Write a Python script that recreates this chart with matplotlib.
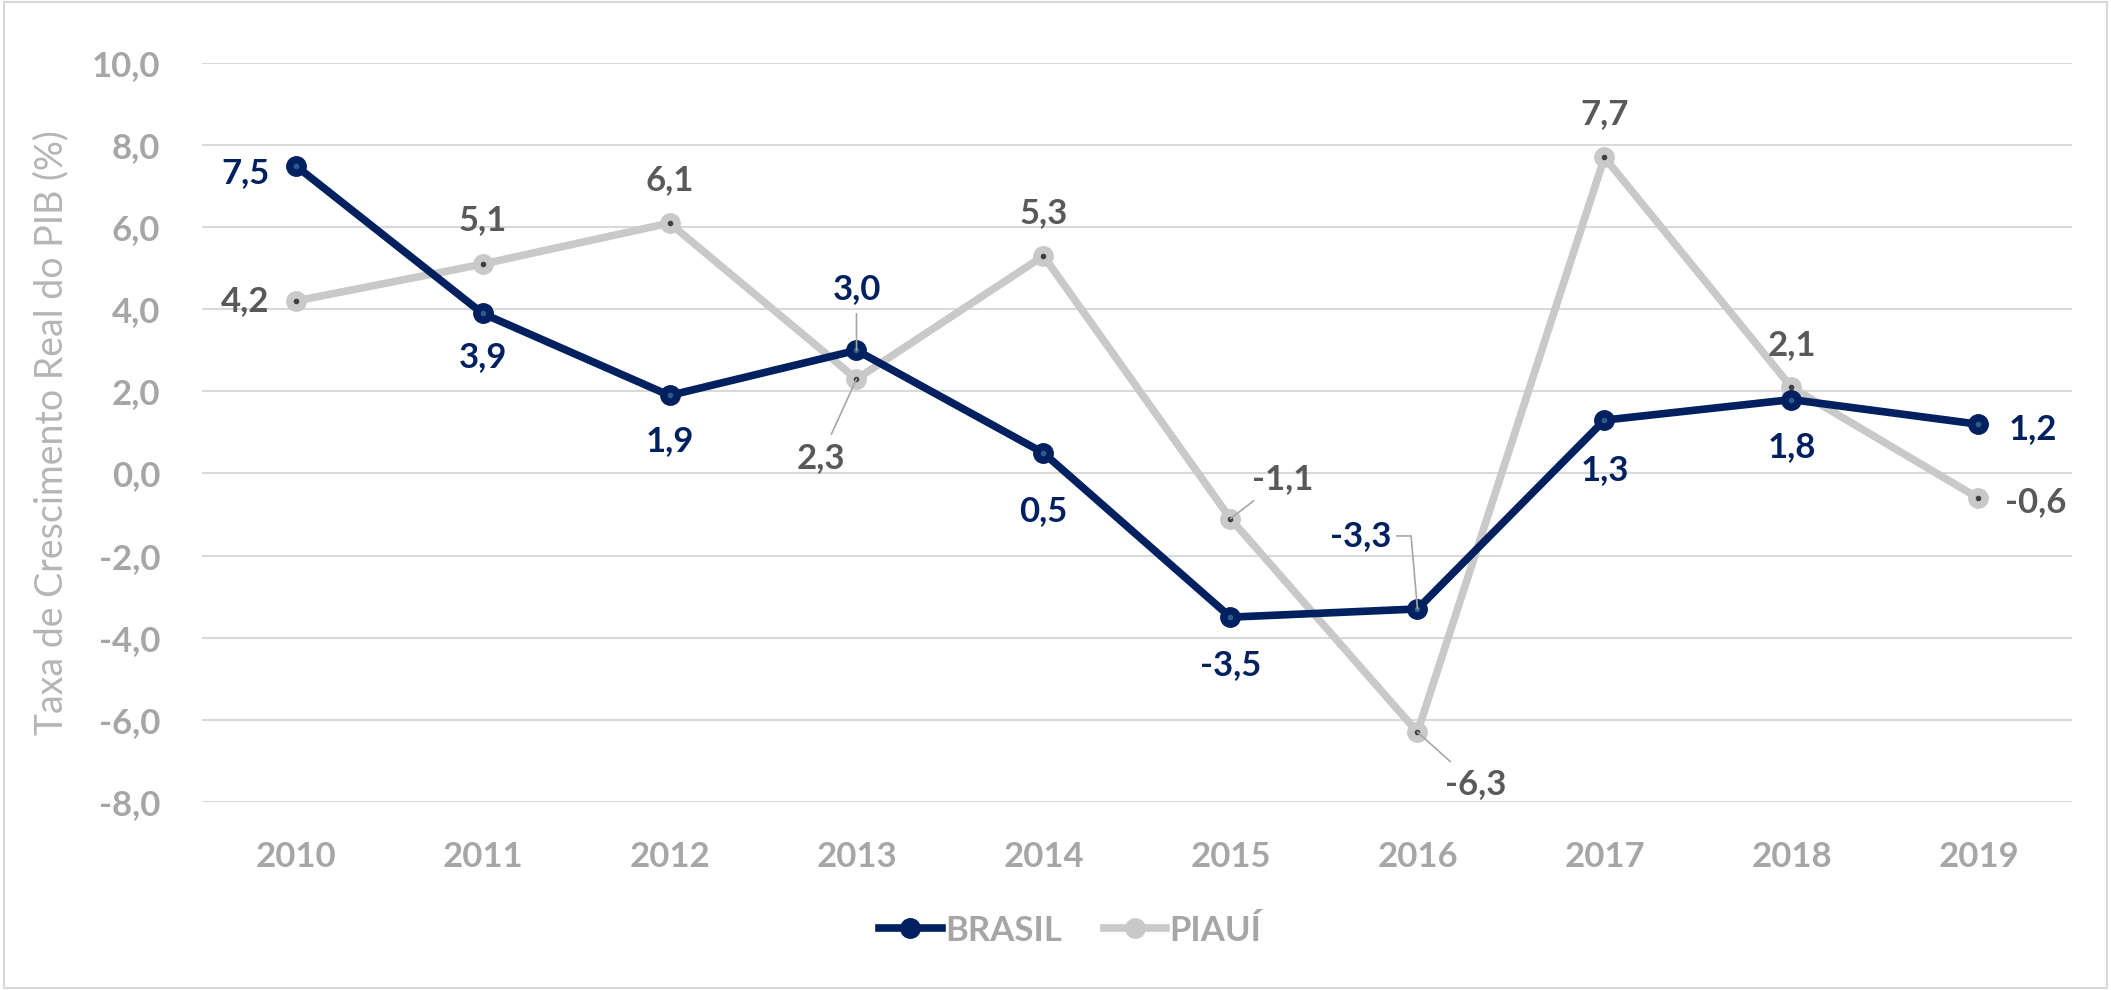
import numpy as np
import matplotlib
matplotlib.use('Agg')
import matplotlib.pyplot as plt
from matplotlib.ticker import FuncFormatter
from matplotlib.lines import Line2D
from matplotlib.patches import Rectangle

# DADOS
anos = ['2010', '2011', '2012', '2013', '2014', '2015', '2016', '2017', '2018', '2019']
brasil = [7.5, 3.9, 1.9, 3.0, 0.5, -3.5, -3.3, 1.3, 1.8, 1.2]
piaui = [4.2, 5.1, 6.1, 2.3, 5.3, -1.1, -6.3, 7.7, 2.1, -0.6]

# posição dos rótulos (deslocamento em pixels) e tipo de linha de chamada
desl_brasil = [(-50, -7), (0, -44), (0, -46), (0, 61), (0, -58),
               (0, -48), (-57, 73), (0, -50), (0, -47), (54, -5)]
chamada_brasil = [None, None, None, 'reta', None, None, 'cotovelo', None, None, None]
desl_piaui = [(-50, 0), (0, 44), (0, 43), (-36, -79), (0, 43),
              (52, 40), (58, -52), (0, 43), (0, 42), (57, -4)]
chamada_piaui = [None, None, None, 'reta', None, 'reta', 'reta', None, None, None]

AZUL = '#002060'
CINZA = '#C9C9C9'
TXT_CINZA = '#A6A6A6'
LBL_CINZA = '#595959'

plt.rcParams['font.family'] = ['Lato', 'DejaVu Sans']

fig = plt.figure(figsize=(21.11, 9.9), dpi=100)
ax = fig.add_axes([0.0957, 0.190, 0.8858, 0.7464])
fig.patches.append(Rectangle((0.002, 0.002), 0.996, 0.996, transform=fig.transFigure,
                             fill=False, edgecolor='#D9D9D9', lw=1.5))

x = np.arange(len(anos))
ax.plot(x, piaui, color=CINZA, lw=5.5, marker='o', ms=14, mfc=CINZA, mec=CINZA,
        solid_capstyle='round', zorder=3)
ax.plot(x, piaui, ls='none', marker='o', ms=3, color='#404040', zorder=4)
ax.plot(x, brasil, color=AZUL, lw=5.5, marker='o', ms=14, mfc=AZUL, mec=AZUL,
        solid_capstyle='round', zorder=5)
ax.plot(x, brasil, ls='none', marker='o', ms=3, color='#2E5C8A', zorder=6)

def fmt(v):
    return f'{v:.1f}'.replace('.', ',')

def rotulos(vals, desl, chamada, cor):
    for i, v in enumerate(vals):
        dx, dy = desl[i]
        props = None
        if chamada[i] == 'reta':
            props = dict(arrowstyle='-', color='#A6A6A6', lw=1.2, shrinkA=4, shrinkB=0)
        elif chamada[i] == 'cotovelo':
            props = dict(arrowstyle='-', color='#A6A6A6', lw=1.2, shrinkA=2, shrinkB=0,
                         relpos=(1.0, 0.5),
                         connectionstyle='angle,angleA=0,angleB=95,rad=0')
        ax.annotate(fmt(v), (x[i], v), xytext=(dx * 0.72, dy * 0.72),
                    textcoords='offset points', ha='center', va='center',
                    fontsize=25, fontweight='bold', color=cor,
                    arrowprops=props, zorder=7)

rotulos(brasil, desl_brasil, chamada_brasil, AZUL)
rotulos(piaui, desl_piaui, chamada_piaui, LBL_CINZA)

ax.set_xlim(-0.5, len(anos) - 0.5)
ax.set_ylim(-8, 10)
ax.set_yticks(np.arange(-8, 11, 2))
ax.yaxis.set_major_formatter(FuncFormatter(lambda v, p: fmt(v)))
ax.set_xticks(x)
ax.set_xticklabels(anos)
ax.tick_params(length=0, labelsize=25, labelcolor=TXT_CINZA)
ax.tick_params(axis='y', pad=30)
ax.tick_params(axis='x', pad=28)
for t in ax.get_xticklabels() + ax.get_yticklabels():
    t.set_fontweight('bold')
ax.grid(axis='y', color='#D9D9D9', lw=1.5)
ax.set_axisbelow(True)
for s in ax.spines.values():
    s.set_visible(False)

ax.set_ylabel('Taxa de Crescimento Real do PIB (%)', fontsize=27,
              color='#B5B5B5', labelpad=16)

handles = [Line2D([], [], color=AZUL, lw=5.5, marker='o', ms=14),
           Line2D([], [], color=CINZA, lw=5.5, marker='o', ms=14)]
leg = fig.legend(handles, ['BRASIL', 'PIAUÍ'], loc='center', bbox_to_anchor=(0.507, 0.06),
                 ncol=2, frameon=False, handlelength=1.8, handletextpad=0.1,
                 columnspacing=1.2, prop=dict(size=25, weight='bold'))
for t in leg.get_texts():
    t.set_color(TXT_CINZA)

plt.savefig('out.png', dpi=100)
